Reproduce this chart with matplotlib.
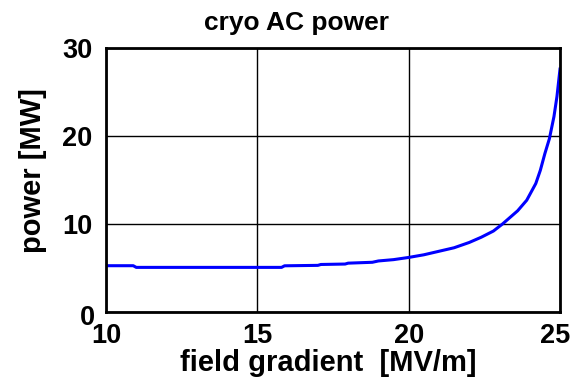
import matplotlib
matplotlib.use("Agg")
from matplotlib import pyplot as plt
from matplotlib.transforms import ScaledTranslation

# field gradient [MV/m] and cryo AC power [MW]
gradient = [10.0, 10.9, 11.0, 15.8, 15.9, 17.0, 17.1, 17.9, 18.0, 18.8, 19.0,
            19.5, 20.0, 20.5, 21.0, 21.5, 22.0, 22.4, 22.8, 23.1, 23.4, 23.6,
            23.9, 24.2, 24.35, 24.5, 24.65, 24.8, 24.9, 25.0]
power = [5.26, 5.26, 5.07, 5.07, 5.25, 5.3, 5.4, 5.45, 5.55, 5.65, 5.8,
         5.95, 6.2, 6.5, 6.9, 7.3, 7.9, 8.5, 9.2, 10.0, 10.9, 11.5,
         12.7, 14.6, 16.1, 18.0, 19.7, 22.2, 24.5, 27.6]

xticks = [10, 15, 20, 25]
yticks = [0, 10, 20, 30]

plt.rcParams['font.family'] = ['Liberation Sans', 'DejaVu Sans']
plt.rcParams['font.weight'] = 'bold'

fig = plt.figure(figsize=(5.72, 3.82), dpi=100)
ax = fig.add_axes([106 / 572, 1 - 312 / 382, 454 / 572, 264 / 382])
ax.plot(gradient, power, color='#0000ff', lw=2.2)
ax.set_xlim(10, 25)
ax.set_ylim(0, 30)
ax.set_xticks(xticks)
ax.set_yticks(yticks)
ax.grid(True, color='black', lw=1)
ax.tick_params(length=0, labelsize=19.5)
ax.tick_params(axis='x', pad=8)
ax.tick_params(axis='y', pad=10)
for s in ax.spines.values():
    s.set_linewidth(2)

# nudge the corner labels like in the original
lab = ax.get_xticklabels()[-1]
lab.set_transform(lab.get_transform() + ScaledTranslation(-5 / 100, 0, fig.dpi_scale_trans))
lab = ax.get_yticklabels()[0]
lab.set_transform(lab.get_transform() + ScaledTranslation(3 / 100, -3 / 100, fig.dpi_scale_trans))

fig.text(296 / 572, 1 - 23 / 382, "cryo AC power", fontsize=19, fontweight='bold',
         ha='center', va='center')
ax.set_xlabel("field gradient  [MV/m]", fontsize=21, fontweight='bold')
ax.set_ylabel("power [MW]", fontsize=21, fontweight='bold')
ax.xaxis.set_label_coords((328 - 106) / 454, (312 - 363) / 264)
ax.yaxis.set_label_coords((33 - 106) / 454, (312 - 171) / 264)
ax.xaxis.label.set_va('center')
ax.yaxis.label.set_va('center')
fig.savefig("out.png", dpi=100)
